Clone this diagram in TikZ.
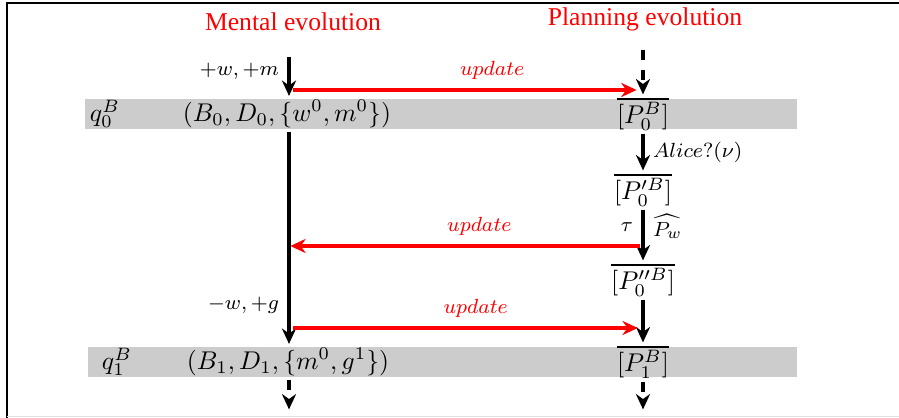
\documentclass[tikz,border=0pt]{standalone}
\usepackage{fontspec}
\newfontfamily\timesfont{Liberation Serif}
\usetikzlibrary{arrows.meta,positioning}

\begin{document}
\begin{tikzpicture}[
        x=0.39pt, y=-0.39pt,
        >={Stealth[length=6pt,width=5.5pt]},
        title/.style={text=red, font=\timesfont},
        band/.style={fill=black!20},
        state/.style={inner sep=0pt, minimum height=11.7pt},
        flow/.style={->, line width=1.2pt, shorten <=1pt, shorten >=1pt},
        dashflow/.style={flow, dash pattern=on 4pt off 4pt},
        upd/.style={->, red, line width=1.6pt},
        lbl/.style={font=\footnotesize},
        updlbl/.style={red, font=\footnotesize, above}
    ]
    \useasboundingbox (0,0) rectangle (899,418);

    % frame
    \draw[thick] (7,418) -- (7,3) -- (899,3);
    \draw[black!12] (7,416.5) -- (899,416.5);

    % --- titles ---
    \node[title] (mental) at (293,22) {Mental evolution};
    \node[title] (planning) at (645,19) {Planning evolution};

    % --- bands ---
    \fill[band] (85,99) rectangle (797,129);
    \fill[band] (88,347) rectangle (797,377);

    % --- states ---
    \node[state] (q0) at (105,114) {$q_0^B$};
    \node[state] (q1) at (117,362) {$q_1^B$};
    \node[state] (tuple0) at (287,114) {$(B_0, D_0, \{w^0, m^0\})$};
    \node[state] (tuple1) at (288,362) {$(B_1, D_1, \{m^0, g^1\})$};

    \node[state] (p0) at (643,114) {$\overline{[P_0^B]}$};
    \node[state] (p0a) at (643,190) {$\overline{[P'^B_0]}$};
    \node[state] (p0b) at (643,280) {$\overline{[P''^B_0]}$};
    \node[state] (p1) at (643,362) {$\overline{[P_1^B]}$};

    \coordinate (mIn) at (289,54);
    \coordinate (mOut) at (289,412);
    \coordinate (pIn) at (643,47);
    \coordinate (pOut) at (643,412);

    % --- mental evolution ---
    \draw[flow] (mIn) -- (mIn |- tuple0.north)
        node[lbl, left, pos=0.4] {$+w,+m$};
    \draw[flow] (mIn |- tuple0.south) -- (mIn |- tuple1.north)
        node[lbl, left, pos=0.81] {$-w,+g$};
    \draw[dashflow] (mIn |- tuple1.south) -- (mOut);

    % --- planning evolution ---
    \draw[dashflow] (pIn) -- (p0);
    \draw[flow] (p0) -- (p0a) node[lbl, right, midway] {$Alice?(\nu)$};
    \draw[flow] (p0a) -- (p0b)
        node[lbl, left, pos=0.35] {$\tau$}
        node[lbl, right, pos=0.35] {$\widehat{P_w}$};
    \draw[flow] (p0b) -- (p1);
    \draw[dashflow] (p1) -- (pOut);

    % --- updates ---
    \coordinate (u0) at (289,90);
    \coordinate (u1) at (289,246);
    \coordinate (u2) at (289,328);
    \draw[upd] ([xshift=1.5pt] u0) -- ([xshift=-2.5pt] u0 -| pIn)
        node[updlbl, pos=0.58] {$update$};
    \draw[upd] ([xshift=-1pt] u1 -| pIn) -- ([xshift=0.5pt] u1)
        node[updlbl, pos=0.46] {$update$};
    \draw[upd] ([xshift=1.5pt] u2) -- ([xshift=-2pt] u2 -| pIn)
        node[updlbl, pos=0.53] {$update$};
\end{tikzpicture}
\end{document}
